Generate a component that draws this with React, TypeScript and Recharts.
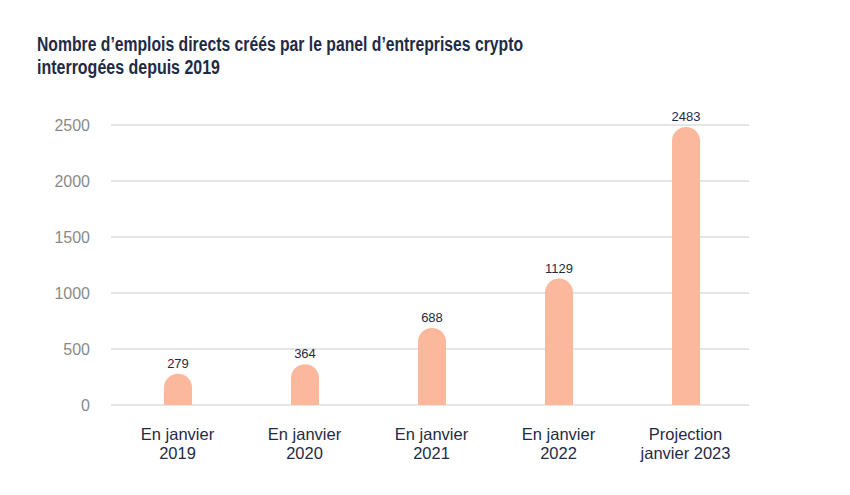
import React from "react";
import { BarChart, Bar, XAxis, YAxis, CartesianGrid, LabelList } from "recharts";

const categories = ["En janvier|2019", "En janvier|2020", "En janvier|2021", "En janvier|2022", "Projection|janvier 2023"];
const emplois = [279, 364, 688, 1129, 2483];
const yTicks = [0, 500, 1000, 1500, 2000, 2500];
const titleLines = [
  "Nombre d\u2019emplois directs créés par le panel d\u2019entreprises crypto",
  "interrogées depuis 2019",
];

const data = categories.map((c, i) => ({ name: c, value: emplois[i] }));

const NAVY = "#1f2b46";
const FONT = "'Liberation Sans', Arial, sans-serif";

const XTick = (props: any) => {
  const { x, y, payload } = props;
  const lines = String(payload.value).split("|");
  return (
    <g transform={`translate(${x},${y})`}>
      {lines.map((l: string, i: number) => (
        <text key={i} x={0} y={27 + i * 19} textAnchor="middle" fill={NAVY} fontSize={16.5} fontFamily={FONT}>
          {l}
        </text>
      ))}
    </g>
  );
};

const ValueLabel = (props: any) => {
  const { x, y, width, value } = props;
  return (
    <text x={x + width / 2} y={y - 6} textAnchor="middle" fill={NAVY} fontSize={13} fontFamily={FONT}>
      {value}
    </text>
  );
};

export default function App() {
  return (
    <div style={{ position: "absolute", left: 0, top: 0, width: 850, height: 495, background: "#fff" }}>
      <svg width={850} height={90} style={{ position: "absolute", left: 0, top: 0 }}>
        <text x={37} y={51} fill={NAVY} fontSize={20} fontWeight="bold" fontFamily={FONT} textLength={486} lengthAdjust="spacingAndGlyphs">
          {titleLines[0]}
        </text>
        <text x={37} y={74} fill={NAVY} fontSize={20} fontWeight="bold" fontFamily={FONT} textLength={183} lengthAdjust="spacingAndGlyphs">
          {titleLines[1]}
        </text>
      </svg>
      <div style={{ position: "absolute", left: 0, top: 0 }}>
        <BarChart width={850} height={495} data={data} margin={{ top: 125, right: 101, bottom: 0, left: 0 }}>
          <CartesianGrid vertical={false} stroke="#dcdcdc" strokeWidth={1.3} />
          <XAxis
            dataKey="name"
            axisLine={false}
            tickLine={false}
            height={90}
            interval={0}
            tick={<XTick />}
            padding={{ left: 3, right: 0 }}
          />
          <YAxis
            domain={[0, 2500]}
            ticks={yTicks}
            axisLine={false}
            tickLine={false}
            width={111}
            tickSize={0}
            tickMargin={21}
            tick={{ fill: "#8a8a8a", fontSize: 16, fontFamily: FONT }}
          />
          <Bar dataKey="value" fill="#fcb89c" barSize={28} radius={[14, 14, 0, 0]} isAnimationActive={false}>
            <LabelList dataKey="value" content={<ValueLabel />} />
          </Bar>
        </BarChart>
      </div>
    </div>
  );
}
